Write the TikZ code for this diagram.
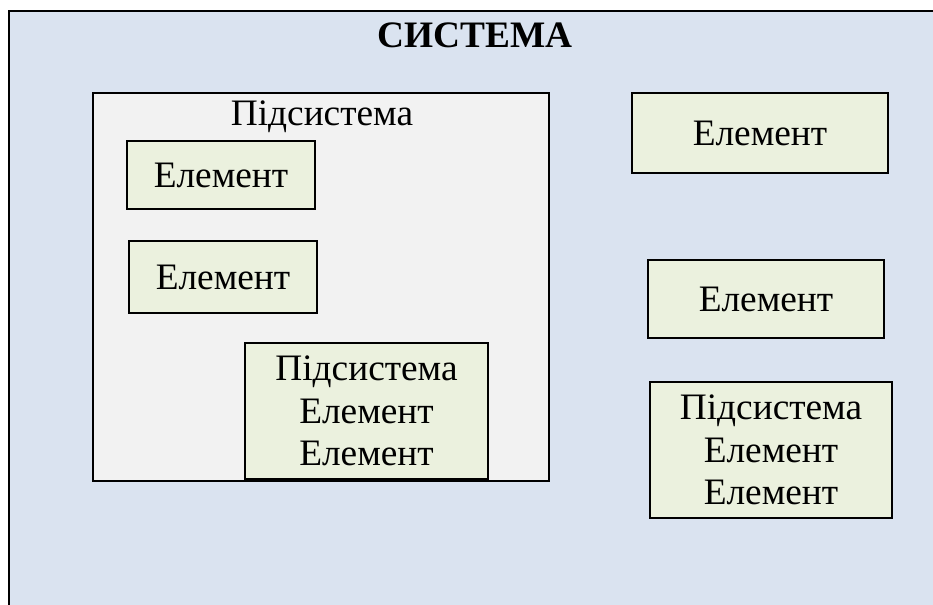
\documentclass[tikz,border=0pt]{standalone}
\usepackage{fontspec}
\setmainfont{Liberation Serif}
\definecolor{sysblue}{HTML}{DAE3F0}
\definecolor{subgray}{HTML}{F2F2F2}
\definecolor{elemgreen}{HTML}{EBF1DE}

\begin{document}
\begin{tikzpicture}[
    x=0.75pt, y=-0.75pt,
    elem/.style={draw=black, line width=1.6pt, fill=elemgreen, inner sep=0pt, align=center, font=\fontsize{28}{32}\selectfont},
    subsys/.style={draw=black, line width=1.6pt, fill=subgray, inner sep=0pt},
    lbl/.style={inner sep=0pt, font=\fontsize{28}{32}\selectfont},
]
\useasboundingbox (0,0) rectangle (933,605);
\clip (0,0) rectangle (933,605);

% System frame (runs off the right and bottom edges)
\fill[sysblue] (9,11) rectangle (933,605);
\draw[line width=1.8pt] (9,605) -- (9,11) -- (933,11);
\node[lbl, font=\fontsize{28}{32}\selectfont\bfseries] (title) at (475,35) {СИСТЕМА};

% Subsystem with its elements
\node[subsys, minimum width=342pt, minimum height=291pt] (sub) at (321,287) {};
\node[lbl] (sublbl) at (322,117) {Підсистема};
\node[elem, minimum width=141pt, minimum height=51pt] (el1) at (221,175) {Елемент};
\node[elem, minimum width=141pt, minimum height=54pt] (el2) at (223,277) {Елемент};
\node[elem, minimum width=182pt, minimum height=102pt] (insub) at (366.5,411) {Підсистема\\Елемент\\Елемент};

% Elements outside the subsystem
\node[elem, minimum width=192pt, minimum height=60pt] (rel1) at (760,133) {Елемент};
\node[elem, minimum width=177pt, minimum height=58.5pt] (rel2) at (766,299) {Елемент};
\node[elem, minimum width=181.5pt, minimum height=102pt] (rsub) at (771,450) {Підсистема\\Елемент\\Елемент};

\end{tikzpicture}
\end{document}
